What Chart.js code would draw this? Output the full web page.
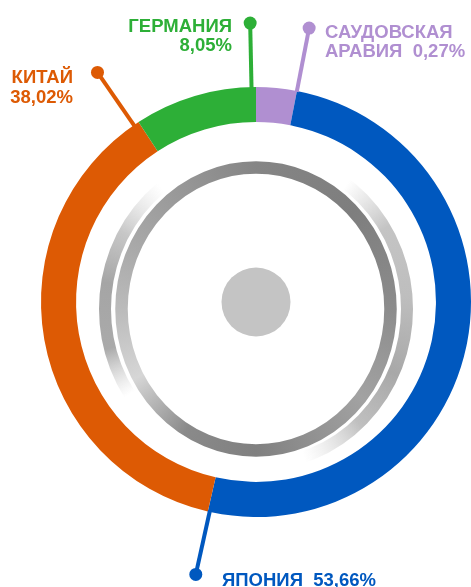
<!DOCTYPE html>
<html>
<head>
<meta charset="utf-8">
<script src="https://cdn.jsdelivr.net/npm/chart.js@4"></script>
<style>
  html, body { margin: 0; padding: 0; background: #fff; }
  #wrap { position: relative; width: 471px; height: 587px; }
</style>
</head>
<body>
<div id="wrap"><canvas id="shareChart"></canvas></div>
<script>
const countries = ["САУДОВСКАЯ АРАВИЯ", "ЯПОНИЯ", "КИТАЙ", "ГЕРМАНИЯ"];
const shares = [0.27, 53.66, 38.02, 8.05];
// arc sizes as they are drawn in the picture (the tiny slice is drawn wider than its share)
const arcSizes = [3.05, 50.55, 37.2, 9.2];
const colors = ["#b08fd1", "#0058bf", "#dd5a04", "#2daf37"];

// label placement: text lines ({v} = value), x, baselines, alignment, small angle shift of the leader
const labelLayout = [
  { lines: ["САУДОВСКАЯ", "АРАВИЯ  {v}"], x: 325, y: [38, 57], align: "left", shift: 0 },
  { lines: ["ЯПОНИЯ  {v}"], x: 222, y: [586], align: "left", shift: -0.5 },
  { lines: ["КИТАЙ", "{v}"], x: 73, y: [83, 103], align: "right", shift: -1.5 },
  { lines: ["ГЕРМАНИЯ", "{v}"], x: 232, y: [32, 51], align: "right", shift: -1.2 }
];

function fmt(v) {
  return v.toFixed(2).replace(".", ",") + "%";
}

function conic(ctx, x, y, stops) {
  const g = ctx.createConicGradient(-Math.PI / 2, x, y);
  stops.forEach(([deg, col]) => g.addColorStop(deg / 360, col));
  return g;
}

// grey rings and dot in the middle of the doughnut
const ringDecor = {
  id: "ringDecor",
  beforeDatasetsDraw(chart) {
    const ctx = chart.ctx;
    const arc = chart.getDatasetMeta(0).data[0];
    const cx = arc.x, cy = arc.y;
    // the rings sit a little lower and are slightly taller than wide
    const rx = cx, ry = cy + 7;
    ctx.save();

    // light outer arcs, fading out at both ends
    ctx.lineWidth = 12;
    ctx.strokeStyle = conic(ctx, rx, ry, [
      [0, "rgba(200,200,200,0)"],
      [36, "rgba(200,200,200,0)"],
      [58, "rgba(196,196,196,1)"],
      [85, "rgb(190,190,190)"],
      [115, "rgb(168,168,168)"],
      [138, "rgba(175,175,175,0.8)"],
      [162, "rgba(210,210,210,0)"],
      [236, "rgba(200,200,200,0)"],
      [255, "rgba(170,170,170,1)"],
      [280, "rgb(165,165,165)"],
      [300, "rgba(185,185,185,0.8)"],
      [322, "rgba(210,210,210,0)"],
      [360, "rgba(200,200,200,0)"]
    ]);
    ctx.beginPath();
    ctx.ellipse(rx, ry, 151, 156, 0, 0, Math.PI * 2);
    ctx.stroke();

    // darker full ring
    ctx.lineWidth = 12.5;
    ctx.strokeStyle = conic(ctx, rx, ry, [
      [0, "#858585"],
      [45, "#7e7e7e"],
      [90, "#8c8c8c"],
      [130, "#a2a2a2"],
      [158, "#909090"],
      [180, "#808080"],
      [210, "#8a8a8a"],
      [240, "#d6d6d6"],
      [268, "#bcbcbc"],
      [295, "#aaaaaa"],
      [325, "#999999"],
      [360, "#858585"]
    ]);
    ctx.beginPath();
    ctx.ellipse(rx, ry, 134.5, 141.5, 0, 0, Math.PI * 2);
    ctx.stroke();

    // centre dot
    ctx.fillStyle = "#c4c4c4";
    ctx.beginPath();
    ctx.arc(cx, cy, 34.5, 0, Math.PI * 2);
    ctx.fill();
    ctx.restore();
  }
};

// leader lines with dots and the country labels
const leaderLabels = {
  id: "leaderLabels",
  afterDatasetsDraw(chart) {
    const ctx = chart.ctx;
    ctx.save();
    chart.getDatasetMeta(0).data.forEach((arc, i) => {
      const lay = labelLayout[i];
      const a = arc.endAngle + lay.shift * Math.PI / 180;
      const r0 = arc.outerRadius - 1;
      const r1 = arc.outerRadius + 64;
      const x1 = arc.x + Math.cos(a) * r1;
      const y1 = arc.y + Math.sin(a) * r1;

      ctx.strokeStyle = colors[i];
      ctx.fillStyle = colors[i];
      ctx.lineWidth = 4;
      ctx.beginPath();
      ctx.moveTo(arc.x + Math.cos(a) * r0, arc.y + Math.sin(a) * r0);
      ctx.lineTo(x1, y1);
      ctx.stroke();
      ctx.beginPath();
      ctx.arc(x1, y1, 6.5, 0, Math.PI * 2);
      ctx.fill();

      ctx.font = 'bold 18.5px "Liberation Sans", Arial, sans-serif';
      ctx.textAlign = lay.align;
      ctx.textBaseline = "alphabetic";
      lay.lines.forEach((line, k) => {
        ctx.fillText(line.replace("{v}", fmt(shares[i])), lay.x, lay.y[k]);
      });
    });
    ctx.restore();
  }
};

const ctx = document.getElementById("shareChart").getContext("2d");
const chart = new Chart(ctx, {
  type: "doughnut",
  data: {
    labels: countries,
    datasets: [
      {
        data: arcSizes,
        backgroundColor: colors,
        borderWidth: 0,
        hoverOffset: 0
      }
    ]
  },
  options: {
    responsive: true,
    maintainAspectRatio: false,
    animation: false,
    events: [],
    cutout: "83.7%",
    layout: {
      padding: { left: 41, right: 0, top: 87, bottom: 70 }
    },
    plugins: {
      legend: { display: false },
      tooltip: { enabled: false }
    }
  },
  plugins: [ringDecor, leaderLabels]
});
</script>
</body>
</html>
